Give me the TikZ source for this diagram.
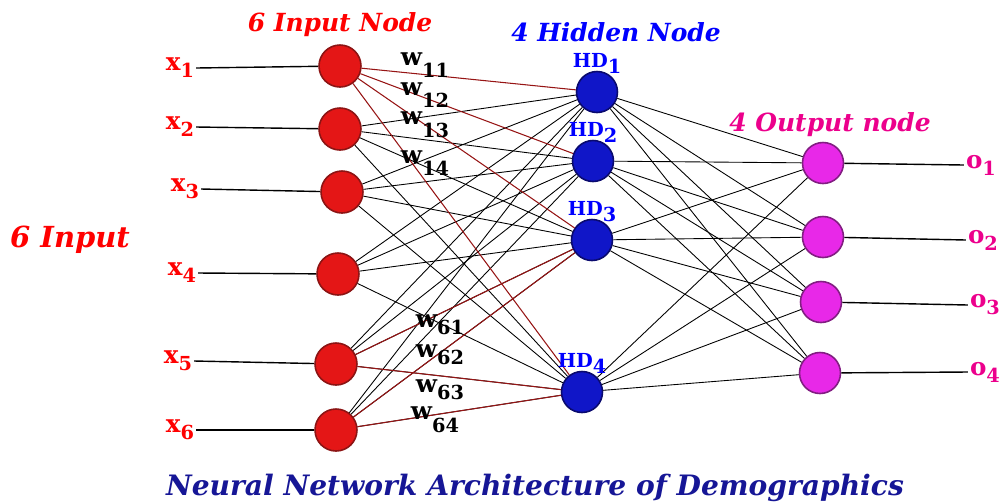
\documentclass[tikz,border=0pt]{standalone}
\usepackage{fontspec}
\setmainfont{DejaVu Serif}
\usetikzlibrary{positioning}
\definecolor{inred}{RGB}{228,22,22}
\definecolor{inredline}{RGB}{140,20,20}
\definecolor{hidblue}{RGB}{16,22,200}
\definecolor{hidblueline}{RGB}{10,10,110}
\definecolor{outpink}{RGB}{232,40,232}
\definecolor{outpinkline}{RGB}{130,30,130}
\definecolor{wred}{RGB}{150,20,20}
\definecolor{titleblue}{RGB}{22,22,150}
\newcommand{\lsub}[2]{#1\raisebox{-0.55ex}{\fontsize{11}{11}\selectfont #2}}
\newcommand{\wsub}[2]{#1\raisebox{-1.0ex}{\fontsize{11}{11}\selectfont #2}}
\newcommand{\hsub}[2]{#1\raisebox{-0.6ex}{\fontsize{11}{11}\selectfont #2}}
\tikzset{
  inputnode/.style={
    circle,
    fill=inred,
    draw=inredline, line width=0.9pt,
    minimum size=0.84cm,
    inner sep=0pt},
  hiddennode/.style={
    circle,
    fill=hidblue,
    draw=hidblueline, line width=0.9pt,
    minimum size=0.82cm,
    inner sep=0pt},
  outputnode/.style={
    circle,
    fill=outpink,
    draw=outpinkline, line width=0.9pt,
    minimum size=0.82cm,
    inner sep=0pt},
  xlabel/.style={text=red, font=\bfseries\fontsize{14}{14}\selectfont, inner sep=1pt},
  olabel/.style={text=magenta, font=\bfseries\fontsize{14}{14}\selectfont, inner sep=1pt},
  hdlabel/.style={text=blue, font=\bfseries\fontsize{11}{11}\selectfont, inner sep=0pt},
  wlabel/.style={text=black, font=\bfseries\fontsize{14}{14}\selectfont, inner sep=0pt},
  heading/.style={font=\bfseries\itshape\fontsize{14.2}{15}\selectfont, inner sep=0pt},
  link/.style={draw, line width=0.5pt},
  redlink/.style={draw=wred, line width=0.6pt},
  feed/.style={draw, line width=0.8pt},
}
\begin{document}
\begin{tikzpicture}
  \useasboundingbox (0,0) rectangle (20.08,-10.06);
  % input layer
  \node[inputnode] (In1) at (6.80,-1.32) {};
  \node[inputnode] (In2) at (6.80,-2.58) {};
  \node[inputnode] (In3) at (6.84,-3.84) {};
  \node[inputnode] (In4) at (6.76,-5.48) {};
  \node[inputnode] (In5) at (6.72,-7.28) {};
  \node[inputnode] (In6) at (6.72,-8.60) {};
  % hidden layer
  \node[hiddennode] (Hd1) at (11.94,-1.84) {};
  \node[hiddennode] (Hd2) at (11.86,-3.22) {};
  \node[hiddennode] (Hd3) at (11.84,-4.80) {};
  \node[hiddennode] (Hd4) at (11.64,-7.84) {};
  % output layer
  \node[outputnode] (Out1) at (16.46,-3.26) {};
  \node[outputnode] (Out2) at (16.46,-4.74) {};
  \node[outputnode] (Out3) at (16.42,-6.04) {};
  \node[outputnode] (Out4) at (16.40,-7.46) {};
  % connections
  \foreach \i in {2,...,6}
    \foreach \j in {1,...,4}
      \path[link] (In\i) -- (Hd\j);
  \foreach \j in {1,...,4}
    \foreach \k in {1,...,4}
      \path[link] (Hd\j) -- (Out\k);
  \foreach \j in {1,...,4}
    \path[redlink] (In1) -- (Hd\j);
  \path[redlink] (In5) -- (Hd3);
  \path[redlink] (In5) -- (Hd4);
  \path[redlink] (In6) -- (Hd3);
  \path[redlink] (In6) -- (Hd4);
  % inputs and outputs
  \node[xlabel] (X1) at (3.60,-1.36) {\lsub{x}{1}};
  \node[xlabel] (X2) at (3.60,-2.54) {\lsub{x}{2}};
  \node[xlabel] (X3) at (3.70,-3.78) {\lsub{x}{3}};
  \node[xlabel] (X4) at (3.64,-5.46) {\lsub{x}{4}};
  \node[xlabel] (X5) at (3.56,-7.22) {\lsub{x}{5}};
  \node[xlabel] (X6) at (3.60,-8.60) {\lsub{x}{6}};
  \foreach \i in {1,...,6}
    \path[feed] (X\i.east) -- (In\i);
  \node[olabel] (O1) at (19.62,-3.30) {\lsub{o}{1}};
  \node[olabel] (O2) at (19.66,-4.80) {\lsub{o}{2}};
  \node[olabel] (O3) at (19.70,-6.10) {\lsub{o}{3}};
  \node[olabel] (O4) at (19.70,-7.44) {\lsub{o}{4}};
  \foreach \k in {1,...,4}
    \path[feed] (Out\k) -- (O\k.west);
  % hidden labels
  \node[hdlabel, above=-2pt of Hd1] {\hsub{HD}{1}};
  \node[hdlabel, above=-2pt of Hd2] {\hsub{HD}{2}};
  \node[hdlabel, above=-2pt of Hd3] {\hsub{HD}{3}};
  \node[hdlabel, above=-2pt of Hd4] {\hsub{HD}{4}};
  % weights
  \node[wlabel] (W11) at (8.50,-1.30) {\wsub{w}{11}};
  \node[wlabel] (W12) at (8.50,-1.90) {\wsub{w}{12}};
  \node[wlabel] (W13) at (8.50,-2.50) {\wsub{w}{13}};
  \node[wlabel] (W14) at (8.50,-3.26) {\wsub{w}{14}};
  \node[wlabel] (W61) at (8.80,-6.50) {\lsub{w}{61}};
  \node[wlabel] (W62) at (8.80,-7.10) {\lsub{w}{62}};
  \node[wlabel] (W63) at (8.80,-7.80) {\lsub{w}{63}};
  \node[wlabel] (W64) at (8.70,-8.40) {\wsub{w}{64}};
  % headings
  \node[heading, text=red] (InTitle) at (6.80,-0.50) {6 Input Node};
  \node[heading, text=blue] (HdTitle) at (12.32,-0.64) {4 Hidden Node};
  \node[heading, text=magenta] (OutTitle) at (16.60,-2.50) {4 Output node};
  \node[heading, text=red, font=\bfseries\itshape\fontsize{16.5}{17}\selectfont] (InSide) at (1.40,-4.80) {6 Input};
  \node[heading, text=titleblue, font=\bfseries\itshape\fontsize{16}{17}\selectfont] (Caption) at (10.70,-9.76) {Neural Network Architecture of Demographics};
\end{tikzpicture}
\end{document}
